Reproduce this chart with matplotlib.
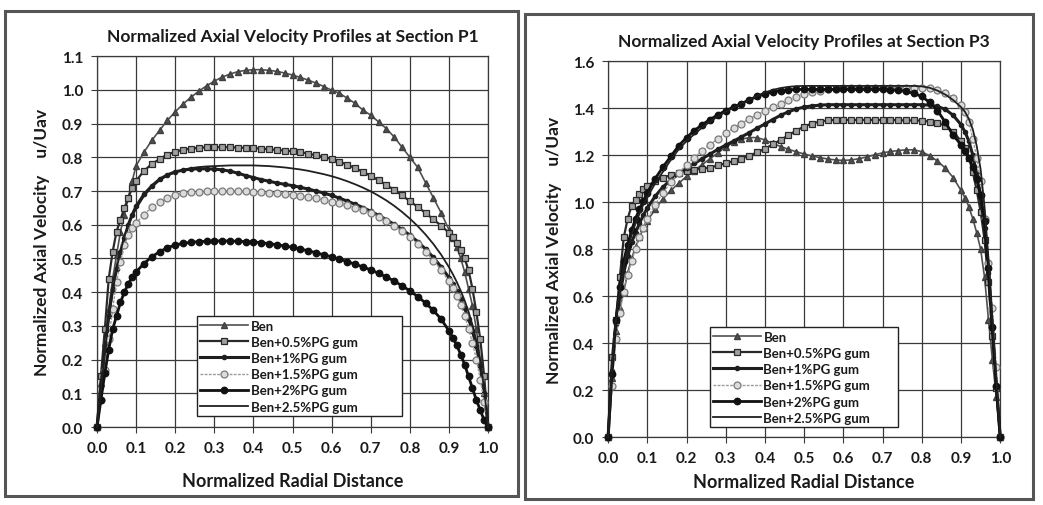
import matplotlib
matplotlib.use("Agg")
import matplotlib.pyplot as plt
from matplotlib.patches import Rectangle

plt.rcParams['font.family'] = ['Lato', 'DejaVu Sans']

# radial positions shared by every profile
x_pts = [0.00, 0.01, 0.02, 0.03, 0.04, 0.05, 0.06, 0.07, 0.08, 0.09,
         0.10, 0.12, 0.14, 0.16, 0.18, 0.20, 0.22, 0.24, 0.26, 0.28,
         0.30, 0.32, 0.34, 0.36, 0.38, 0.40, 0.42, 0.44, 0.46, 0.48,
         0.50, 0.52, 0.54, 0.56, 0.58, 0.60, 0.62, 0.64, 0.66, 0.68,
         0.70, 0.72, 0.74, 0.76, 0.78, 0.80, 0.82, 0.84, 0.86, 0.88,
         0.90, 0.91, 0.92, 0.93, 0.94, 0.95, 0.96, 0.97, 0.98, 0.99, 1.00]

series_names = ["Ben", "Ben+0.5%PG gum", "Ben+1%PG gum",
                "Ben+1.5%PG gum", "Ben+2%PG gum", "Ben+2.5%PG gum"]

# ---- Section P1 ----
p1_ben = [0, 0.13, 0.25, 0.35, 0.44, 0.51, 0.58, 0.63, 0.68, 0.73,
          0.775, 0.815, 0.85, 0.88, 0.91, 0.935, 0.958, 0.978, 0.996, 1.012,
          1.026, 1.038, 1.047, 1.054, 1.058, 1.060, 1.060, 1.058, 1.055, 1.050,
          1.044, 1.037, 1.029, 1.020, 1.010, 0.999, 0.99, 0.975, 0.96, 0.94,
          0.925, 0.905, 0.885, 0.86, 0.83, 0.80, 0.77, 0.725, 0.68, 0.635,
          0.585, 0.56, 0.535, 0.50, 0.46, 0.41, 0.36, 0.29, 0.20, 0.10, 0.0]
p1_05 = [0, 0.15, 0.29, 0.44, 0.52, 0.58, 0.615, 0.65, 0.68, 0.71,
         0.73, 0.76, 0.78, 0.795, 0.808, 0.817, 0.822, 0.826, 0.828, 0.830,
         0.830, 0.830, 0.830, 0.829, 0.828, 0.827, 0.826, 0.824, 0.822, 0.820,
         0.818, 0.815, 0.811, 0.806, 0.801, 0.795, 0.787, 0.778, 0.768, 0.757,
         0.745, 0.732, 0.718, 0.703, 0.687, 0.670, 0.653, 0.635, 0.616, 0.597,
         0.576, 0.563, 0.545, 0.525, 0.500, 0.465, 0.41, 0.34, 0.26, 0.15, 0.0]
p1_10 = [0, 0.12, 0.23, 0.33, 0.41, 0.47, 0.52, 0.56, 0.60, 0.63,
         0.655, 0.69, 0.715, 0.735, 0.748, 0.757, 0.762, 0.765, 0.766, 0.766,
         0.765, 0.763, 0.759, 0.753, 0.746, 0.740, 0.734, 0.729, 0.724, 0.720,
         0.716, 0.711, 0.706, 0.700, 0.694, 0.687, 0.679, 0.670, 0.661, 0.651,
         0.640, 0.628, 0.615, 0.601, 0.586, 0.569, 0.550, 0.528, 0.503, 0.475,
         0.443, 0.424, 0.403, 0.379, 0.352, 0.321, 0.285, 0.240, 0.180, 0.100, 0.0]
p1_15 = [0, 0.08, 0.17, 0.26, 0.35, 0.43, 0.49, 0.54, 0.57, 0.59,
         0.605, 0.63, 0.652, 0.668, 0.68, 0.688, 0.693, 0.696, 0.698, 0.699,
         0.700, 0.700, 0.700, 0.700, 0.699, 0.698, 0.697, 0.695, 0.693, 0.691,
         0.688, 0.685, 0.682, 0.678, 0.674, 0.669, 0.664, 0.658, 0.651, 0.643,
         0.634, 0.623, 0.611, 0.597, 0.581, 0.563, 0.543, 0.520, 0.494, 0.465,
         0.432, 0.413, 0.390, 0.362, 0.330, 0.292, 0.250, 0.200, 0.140, 0.075, 0.0]
p1_20 = [0, 0.08, 0.16, 0.23, 0.29, 0.33, 0.37, 0.40, 0.425, 0.445,
         0.46, 0.485, 0.505, 0.52, 0.532, 0.540, 0.545, 0.548, 0.550, 0.551,
         0.552, 0.552, 0.552, 0.551, 0.550, 0.549, 0.547, 0.544, 0.541, 0.537,
         0.533, 0.528, 0.523, 0.517, 0.511, 0.505, 0.498, 0.491, 0.483, 0.475,
         0.466, 0.456, 0.445, 0.433, 0.419, 0.404, 0.387, 0.368, 0.346, 0.320,
         0.285, 0.265, 0.242, 0.215, 0.185, 0.15, 0.115, 0.08, 0.05, 0.02, 0.0]
p1_25 = [0, 0.11, 0.22, 0.32, 0.40, 0.47, 0.52, 0.565, 0.60, 0.625,
         0.648, 0.685, 0.712, 0.732, 0.746, 0.756, 0.763, 0.768, 0.771, 0.773,
         0.774, 0.775, 0.776, 0.776, 0.776, 0.776, 0.775, 0.774, 0.772, 0.770,
         0.767, 0.764, 0.760, 0.755, 0.750, 0.744, 0.737, 0.729, 0.720, 0.710,
         0.699, 0.686, 0.672, 0.656, 0.638, 0.618, 0.596, 0.571, 0.543, 0.511,
         0.474, 0.453, 0.430, 0.404, 0.375, 0.342, 0.303, 0.256, 0.195, 0.110, 0.0]

# ---- Section P3 ----
p3_ben = [0, 0.25, 0.45, 0.55, 0.62, 0.70, 0.76, 0.81, 0.85, 0.89,
          0.92, 0.97, 1.015, 1.05, 1.08, 1.11, 1.135, 1.16, 1.185, 1.21,
          1.235, 1.255, 1.268, 1.275, 1.275, 1.265, 1.25, 1.237, 1.225, 1.215,
          1.205, 1.197, 1.19, 1.184, 1.18, 1.178, 1.18, 1.185, 1.193, 1.202,
          1.21, 1.216, 1.22, 1.223, 1.223, 1.215, 1.198, 1.175, 1.145, 1.105,
          1.05, 1.02, 0.98, 0.93, 0.87, 0.80, 0.68, 0.50, 0.33, 0.17, 0.0]
p3_05 = [0, 0.34, 0.50, 0.68, 0.85, 0.93, 0.985, 1.01, 1.035, 1.055,
         1.07, 1.09, 1.105, 1.115, 1.125, 1.135, 1.139, 1.143, 1.147, 1.157,
         1.165, 1.175, 1.186, 1.198, 1.212, 1.228, 1.246, 1.265, 1.285, 1.305,
         1.322, 1.335, 1.343, 1.348, 1.350, 1.350, 1.350, 1.350, 1.350, 1.350,
         1.350, 1.350, 1.349, 1.348, 1.348, 1.347, 1.343, 1.337, 1.325, 1.30,
         1.26, 1.23, 1.19, 1.13, 1.05, 0.96, 0.84, 0.66, 0.43, 0.21, 0.0]
p3_10 = [0, 0.28, 0.48, 0.60, 0.70, 0.77, 0.83, 0.87, 0.91, 0.945,
         0.975, 1.025, 1.065, 1.095, 1.12, 1.145, 1.165, 1.185, 1.205, 1.225,
         1.243, 1.26, 1.278, 1.296, 1.315, 1.333, 1.352, 1.37, 1.385, 1.397,
         1.405, 1.41, 1.413, 1.415, 1.415, 1.415, 1.415, 1.415, 1.415, 1.415,
         1.415, 1.415, 1.415, 1.415, 1.415, 1.415, 1.413, 1.408, 1.395, 1.37,
         1.33, 1.30, 1.26, 1.20, 1.12, 1.02, 0.89, 0.70, 0.46, 0.22, 0.0]
p3_15 = [0, 0.22, 0.42, 0.53, 0.62, 0.69, 0.75, 0.80, 0.85, 0.89,
         0.93, 0.99, 1.04, 1.085, 1.125, 1.16, 1.19, 1.22, 1.245, 1.27,
         1.295, 1.315, 1.335, 1.355, 1.372, 1.39, 1.405, 1.42, 1.435, 1.448,
         1.46, 1.468, 1.475, 1.48, 1.483, 1.485, 1.487, 1.487, 1.487, 1.487,
         1.487, 1.487, 1.487, 1.487, 1.487, 1.487, 1.485, 1.478, 1.465, 1.445,
         1.415, 1.385, 1.34, 1.27, 1.19, 1.09, 0.93, 0.74, 0.55, 0.30, 0.0]
p3_20 = [0, 0.27, 0.50, 0.64, 0.75, 0.82, 0.88, 0.93, 0.97, 1.005,
         1.04, 1.10, 1.15, 1.195, 1.24, 1.275, 1.305, 1.33, 1.352, 1.372,
         1.39, 1.405, 1.42, 1.435, 1.45, 1.462, 1.47, 1.475, 1.478, 1.48,
         1.48, 1.48, 1.48, 1.48, 1.48, 1.48, 1.48, 1.48, 1.48, 1.48,
         1.48, 1.478, 1.476, 1.472, 1.463, 1.45, 1.425, 1.39, 1.34, 1.285,
         1.245, 1.22, 1.19, 1.15, 1.10, 1.03, 0.92, 0.72, 0.47, 0.22, 0.0]
p3_25 = [0, 0.30, 0.50, 0.63, 0.73, 0.80, 0.86, 0.91, 0.95, 0.99,
         1.02, 1.08, 1.13, 1.18, 1.225, 1.26, 1.29, 1.318, 1.343, 1.365,
         1.385, 1.403, 1.42, 1.437, 1.453, 1.467, 1.478, 1.486, 1.491, 1.494,
         1.495, 1.495, 1.495, 1.495, 1.495, 1.495, 1.495, 1.495, 1.495, 1.495,
         1.495, 1.495, 1.495, 1.495, 1.495, 1.493, 1.487, 1.475, 1.458, 1.435,
         1.405, 1.385, 1.355, 1.31, 1.24, 1.14, 0.98, 0.76, 0.50, 0.25, 0.0]

# line / marker style for each fluid, in legend order
styles = [
    dict(color='#505050', lw=1.2, marker='^', ms=5, mfc='#505050', mec='#404040'),
    dict(color='#2a2a2a', lw=1.6, marker='s', ms=5, mfc='#a0a0a0', mec='#2a2a2a', mew=0.9),
    dict(color='#1e1e1e', lw=2.2, marker='o', ms=3, mfc='#1e1e1e', mec='#1e1e1e'),
    dict(color='#9a9a9a', lw=1.0, ls=(0, (2, 1)), marker='o', ms=5,
         mfc='#dcdcdc', mec='#7a7a7a', mew=0.9),
    dict(color='#111111', lw=2.0, marker='o', ms=4.6, mfc='#111111', mec='#111111'),
    dict(color='#202020', lw=1.3, marker=None),
]

fig = plt.figure(figsize=(10.43, 5.06), dpi=100)
fig.patch.set_facecolor('white')

# panel frames
fig.add_artist(Rectangle((0.005, 0.018), 0.492, 0.958, transform=fig.transFigure,
                         fill=False, ec='#555555', lw=2.2))
fig.add_artist(Rectangle((0.503, 0.012), 0.487, 0.958, transform=fig.transFigure,
                         fill=False, ec='#555555', lw=2.2))


def draw_panel(ax, profiles, ymax, ystep, title, legend_box, xlabelpad):
    for vals, name, st in zip(profiles, series_names, styles):
        ax.plot(x_pts, vals, label=name, clip_on=False, zorder=3, **st)
    ax.set_xlim(0, 1.0)
    ax.set_ylim(0, ymax)
    xt = [i / 10 for i in range(11)]
    yt = [round(i * ystep, 1) for i in range(int(round(ymax / ystep)) + 1)]
    ax.set_xticks(xt)
    ax.set_yticks(yt)
    ax.set_xticklabels([f"{v:.1f}" for v in xt])
    ax.set_yticklabels([f"{v:.1f}" for v in yt])
    ax.grid(True, color='#3a3a3a', lw=0.9)
    ax.set_axisbelow(True)
    for sp in ax.spines.values():
        sp.set_color('#3a3a3a')
        sp.set_linewidth(0.9)
    ax.tick_params(direction='out', length=4, color='#3a3a3a',
                   labelsize=11, labelcolor='#1a1a1a', pad=6)
    for lab in ax.get_xticklabels() + ax.get_yticklabels():
        lab.set_fontweight('bold')
    ax.set_title(title, fontsize=12.5, fontweight='bold', color='#1a1a1a', pad=11)
    ax.set_xlabel("Normalized Radial Distance", fontsize=13, fontweight='bold',
                  color='#1a1a1a', labelpad=xlabelpad)
    ax.set_ylabel("Normalized Axial Velocity    u/Uav", fontsize=12.5,
                  fontweight='bold', color='#1a1a1a', labelpad=8)
    leg = ax.legend(loc='lower left', bbox_to_anchor=legend_box, mode='expand',
                    prop={'size': 9.5, 'weight': 'bold'}, frameon=True,
                    fancybox=False, edgecolor='#222222', framealpha=1,
                    borderpad=0.25, labelspacing=0.32, handlelength=3.6,
                    handletextpad=0.2, borderaxespad=0)
    leg.get_frame().set_linewidth(1.0)
    for t in leg.get_texts():
        t.set_color('#1a1a1a')


ax1 = fig.add_axes([0.093, 0.154, 0.375, 0.733])
draw_panel(ax1, [p1_ben, p1_05, p1_10, p1_15, p1_20, p1_25], 1.1, 0.1,
           "Normalized Axial Velocity Profiles at Section P1",
           (0.256, 0.03, 0.524, 0.27), 12)

ax2 = fig.add_axes([0.583, 0.134, 0.376, 0.743])
draw_panel(ax2, [p3_ben, p3_05, p3_10, p3_15, p3_20, p3_25], 1.6, 0.2,
           "Normalized Axial Velocity Profiles at Section P3",
           (0.26, 0.027, 0.48, 0.25), 6)

plt.savefig('out.png', dpi=100)
